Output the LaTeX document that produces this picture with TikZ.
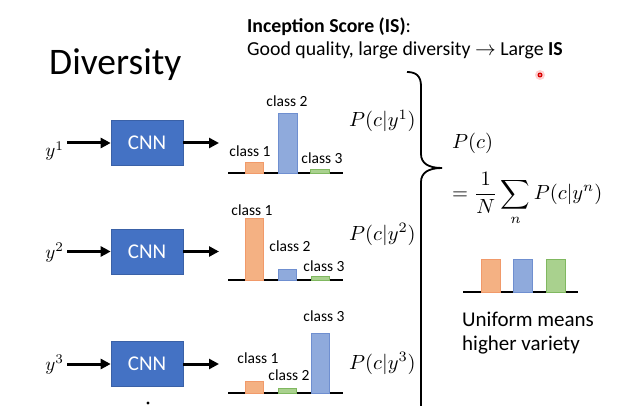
\documentclass[tikz,border=0pt]{standalone}
\usepackage{fontspec}
\setmainfont{Carlito}
\usetikzlibrary{arrows.meta}
\newcommand\mymth[1]{\scalebox{2.05}{$#1$}}
\definecolor{cnnblue}{HTML}{4472C4}
\definecolor{orfill}{HTML}{F4B183}
\definecolor{ordraw}{HTML}{F19A6A}
\definecolor{blfill}{HTML}{8FAADC}
\definecolor{bldraw}{HTML}{6F8FD0}
\definecolor{grfill}{HTML}{A9D18E}
\definecolor{grdraw}{HTML}{80B860}
\tikzset{
  cnn/.style={draw=cnnblue!85!black, line width=0.6pt, fill=cnnblue, text=white, minimum width=72pt, minimum height=45pt, inner sep=0pt, font=\fontsize{21}{24}\selectfont},
  arr/.style={line width=3pt, -{Triangle[length=10pt,width=10pt]}},
  ylab/.style={inner sep=0pt},
  cls/.style={font=\fontsize{15.5}{18}\selectfont, inner sep=0pt},
  pcy/.style={inner sep=0pt},
  base/.style={line width=2pt},
  ob/.style={fill=orfill, draw=ordraw, line width=0.6pt},
  bb/.style={fill=blfill, draw=bldraw, line width=0.6pt},
  gb/.style={fill=grfill, draw=grdraw, line width=0.6pt},
}
\begin{document}
\begin{tikzpicture}[x=1pt,y=-1pt]
\useasboundingbox[fill=white] (0,0) rectangle (623,406);

% title
\node[font=\fontsize{37.5}{40}\selectfont, inner sep=0pt, anchor=base west] (div) at (49,75) {Diversity};
\node[anchor=west, font=\fontsize{19.8}{22}\selectfont\bfseries, inner sep=0pt] (t1) at (247,27) {Inception Score (IS)\mdseries:};
\node[anchor=west, font=\fontsize{19.8}{22}\selectfont, inner sep=0pt] (t2) at (247,50) {Good quality, large diversity $\rightarrow$ Large \textbf{IS}};

% red laser dot
\fill[red!30, opacity=0.6] (540,75) circle (5pt);
\fill[red!85!black] (540,75) circle (2.5pt);
\fill[white] (540,75) circle (0.9pt);

% row 1
\node[ylab, anchor=base east] (y1) at (64,157) {\scalebox{1.9}{$y^1$}};
\node[cnn] (c1) at (147,143) {CNN};
\coordinate (o1) at (219,143);
\draw[arr] (67,143) coordinate (s1) -- (c1.west |- s1);
\draw[arr] (c1.east) -- (o1);
\draw[base] (228,173) -- (343,173);
\draw[ob] (245,173) rectangle (263,162);
\draw[bb] (278,173) rectangle (297,113);
\draw[gb] (310,173) rectangle (329,169);
\node[cls] (l11) at (250,151) {class 1};
\node[cls] (l12) at (287,101) {class 2};
\node[cls] (l13) at (322,158) {class 3};
\node[pcy, anchor=base west] (p1) at (349,127) {\mymth{P(c|y^1)}};

% row 2
\node[ylab, anchor=base east] (y2) at (64,258) {\scalebox{1.9}{$y^2$}};
\node[cnn] (c2) at (147,251.5) {CNN};
\coordinate (o2) at (219,251.5);
\draw[arr] (67,251.5) coordinate (s2) -- (c2.west |- s2);
\draw[arr] (c2.east) -- (o2);
\draw[base] (228,280) -- (343,280);
\draw[ob] (245,280) rectangle (263,218);
\draw[bb] (278,280) rectangle (296,269);
\draw[gb] (311,280) rectangle (329,276);
\node[cls] (l21) at (252,210) {class 1};
\node[cls] (l22) at (290,246) {class 2};
\node[cls] (l23) at (324,266) {class 3};
\node[pcy, anchor=base west] (p2) at (349,240) {\mymth{P(c|y^2)}};

% row 3
\node[ylab, anchor=base east] (y3) at (64,370) {\scalebox{1.9}{$y^3$}};
\node[cnn] (c3) at (147,364) {CNN};
\coordinate (o3) at (219,364);
\draw[arr] (67,364) coordinate (s3) -- (c3.west |- s3);
\draw[arr] (c3.east) -- (o3);
\draw[base] (228,393) -- (343,393);
\draw[ob] (245,393) rectangle (263,381);
\draw[gb] (278,393) rectangle (296,388);
\draw[bb] (311,393) rectangle (329,333);
\node[cls] (l33) at (324,316) {class 3};
\node[cls] (l31) at (258,358) {class 1};
\node[cls] (l32) at (289,375) {class 2};
\node[pcy, anchor=base west] (p3) at (349,369) {\mymth{P(c|y^3)}};
\fill (148,403) circle (1.6pt);

% brace
\draw[line width=1.8pt] (407,72) .. controls (416,72) and (421,76) .. (421,86) -- (421,154) .. controls (421,163) and (428,168) .. (442,168);
\draw[line width=1.8pt] (442,168) .. controls (428,168) and (421,173) .. (421,182) -- (421,410);

% right side
\node[pcy, anchor=base west] (pc) at (452,149) {\mymth{P(c)}};
\node[pcy, anchor=west] (eq) at (452,199) {\scalebox{2.05}{$\displaystyle=\frac{1}{N}\sum_n P(c|y^n)$}};
\draw[base] (463,292) -- (578,292);
\draw[ob] (481,292) rectangle (500,259);
\draw[bb] (513,292) rectangle (532,259);
\draw[gb] (546,292) rectangle (565,259);
\node[anchor=west, font=\fontsize{21}{24.5}\selectfont, inner sep=0pt, align=left] (uni) at (462,333) {Uniform means\\higher variety};
\end{tikzpicture}
\end{document}
